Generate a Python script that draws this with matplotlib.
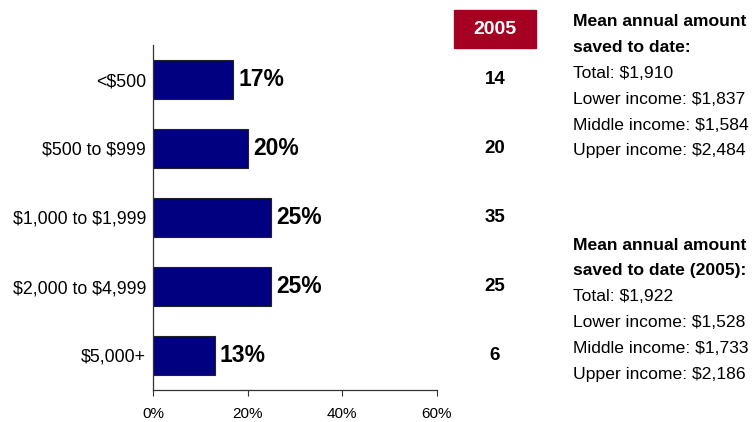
import matplotlib
matplotlib.use('Agg')
import matplotlib.pyplot as plt
from matplotlib.patches import Rectangle
from matplotlib.ticker import FuncFormatter

categories = ['<$500', '$500 to $999', '$1,000 to $1,999', '$2,000 to $4,999', '$5,000+']
shares = [17, 20, 25, 25, 13]
shares_2005 = [14, 20, 35, 25, 6]
year_label = '2005'

block_now = ['Mean annual amount', 'saved to date:', 'Total: $1,910',
             'Lower income: $1,837', 'Middle income: $1,584', 'Upper income: $2,484']
block_2005 = ['Mean annual amount', 'saved to date (2005):', 'Total: $1,922',
              'Lower income: $1,528', 'Middle income: $1,733', 'Upper income: $2,186']

plt.rcParams['font.family'] = ['Liberation Sans', 'DejaVu Sans']
plt.rcParams['text.parse_math'] = False

fig = plt.figure(figsize=(7.56, 4.22), dpi=100)
ax = fig.add_axes([153 / 756, 1 - 390 / 422, 284 / 756, 345 / 422])

y = list(range(len(categories)))
ax.barh(y, shares, height=0.57, color='#000080', edgecolor='#222222', linewidth=0.8)
for yi, v in zip(y, shares):
    ax.text(v + 1.1, yi, f'{v}%', va='center', ha='left', fontsize=16.5, fontweight='bold')

ax.set_xlim(0, 60)
ax.set_ylim(len(categories) - 0.5, -0.5)
ax.set_xticks([0, 20, 40, 60])
ax.xaxis.set_major_formatter(FuncFormatter(lambda x, p: f'{x:.0f}%'))
ax.set_yticks(y)
ax.set_yticklabels(categories)
ax.tick_params(axis='y', length=0, pad=5, labelsize=12.8)
ax.tick_params(axis='x', length=4, pad=8, labelsize=11, color='#333333')
for s in ['top', 'right']:
    ax.spines[s].set_visible(False)
for s in ['left', 'bottom']:
    ax.spines[s].set_color('#333333')
    ax.spines[s].set_linewidth(0.9)

# 2005 comparison column
ax2 = fig.add_axes([454 / 756, 1 - 390 / 422, 82 / 756, 345 / 422], sharey=ax)
ax2.set_axis_off()
ax2.set_xlim(0, 1)
for yi, v in zip(y, shares_2005):
    ax2.text(0.5, yi, str(v), ha='center', va='center', fontsize=13.5, fontweight='bold')

fig.patches.append(Rectangle((454 / 756, 1 - 48 / 422), 82 / 756, 38 / 422,
                             transform=fig.transFigure, color='#A50021'))
fig.text(495 / 756, 1 - 29 / 422, year_label, ha='center', va='center',
         color='white', fontsize=14, fontweight='bold')

# side notes, one text per line
line_h = 25.8


def note_block(top_px, lines):
    for i, line in enumerate(lines):
        fig.text(573 / 756, 1 - (top_px + i * line_h) / 422, line, ha='left', va='center',
                 fontsize=12.6, fontweight='bold' if i < 2 else 'normal')


note_block(22, block_now)
note_block(245, block_2005)

fig.savefig('out.png', dpi=100)
